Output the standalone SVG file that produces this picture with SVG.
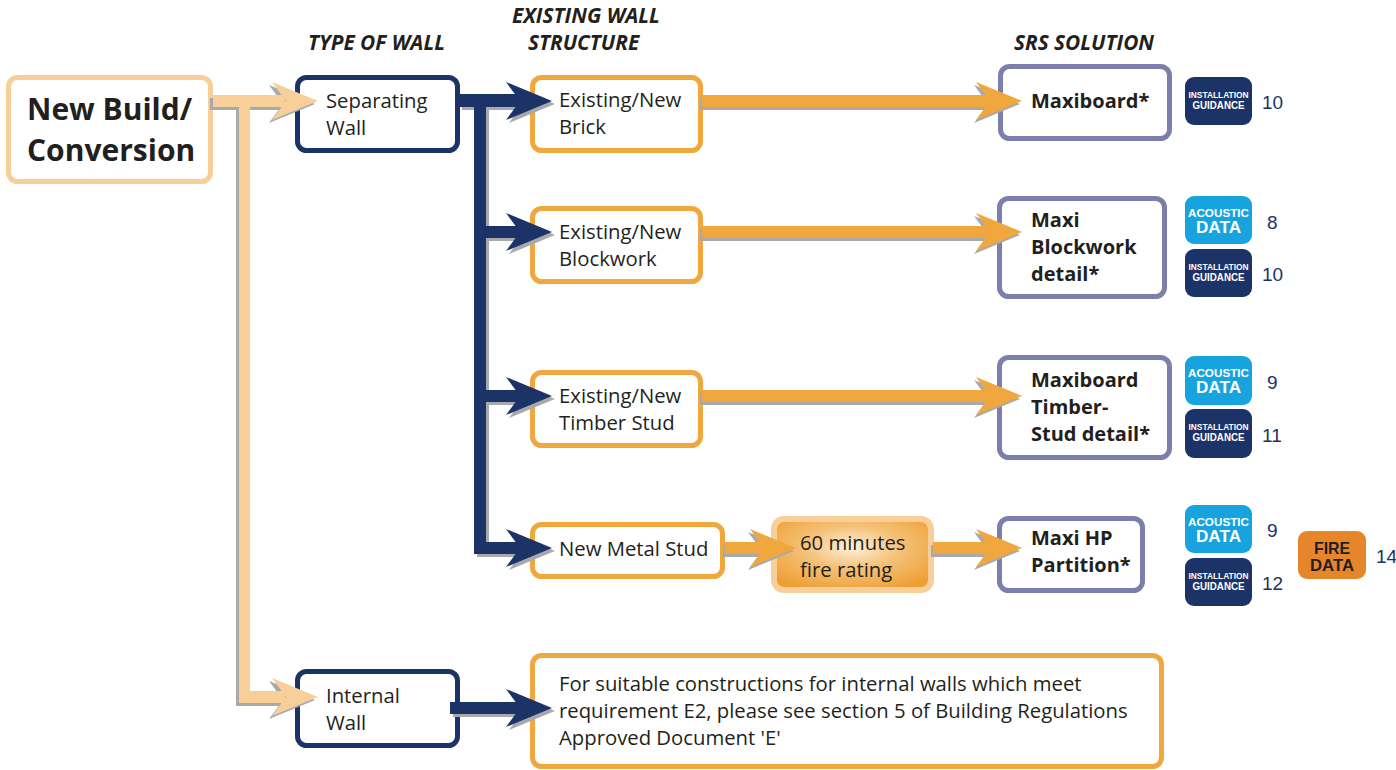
<svg xmlns="http://www.w3.org/2000/svg" width="1396" height="770" viewBox="0 0 1396 770">
<style>
.t{font-family:"Open Sans","Noto Sans",sans-serif;font-size:20.3px;fill:#231f20}
.b{font-family:"Open Sans","Noto Sans",sans-serif;font-size:20px;font-weight:700;fill:#231f20}
.big{font-family:"Open Sans","Noto Sans",sans-serif;font-size:30px;font-weight:700;fill:#231f20}
.h{font-family:"Open Sans","Noto Sans",sans-serif;font-size:20.8px;font-weight:700;font-style:italic;fill:#231f20}
.num{font-family:"Liberation Sans",Arial,sans-serif;font-size:19px;fill:#1b3366}
.bt{font-family:"Liberation Sans",Arial,sans-serif;font-weight:700;fill:#fff;text-anchor:middle}
.ft{font-family:"Liberation Sans",Arial,sans-serif;font-weight:700;fill:#231f20;text-anchor:middle}
.navyBox{fill:#fff;stroke:#1b3366;stroke-width:5}
.orBox{fill:#fff;stroke:#f0a83e;stroke-width:5}
.ltBox{fill:#fff;stroke:#f8cf98;stroke-width:5}
.srsBox{fill:#fff;stroke:#7a7fac;stroke-width:5}
.inst{fill:#1b3366}
.acou{fill:#16a3de}
.fire{fill:#e6862a}
.sh{fill:#a7a9ac}
.cn{fill:#1b3366}
.co{fill:#f0a83e}
.cl{fill:#f8cf98}
</style>
<defs>
<path id="ah" d="M0,0 L-46,-19 L-32,0 L-46,19 Z"/>
<radialGradient id="g60" cx="0.5" cy="0.4" r="0.65">
<stop offset="0" stop-color="#fdf0dc"/>
<stop offset="0.45" stop-color="#f5c27a"/>
<stop offset="1" stop-color="#ee9f34"/>
</radialGradient>
</defs>
<rect width="1396" height="770" fill="#fff"/>

<g id="headers">
<text class="h" x="308" y="50">TYPE OF WALL</text>
<text class="h" x="512" y="23">EXISTING WALL</text>
<text class="h" x="528" y="50">STRUCTURE</text>
<text class="h" x="1014" y="50">SRS SOLUTION</text>
</g>

<g id="node-newbuild">
<rect class="ltBox" x="8.5" y="77.5" width="202" height="104" rx="9"/>
<text class="big" x="27" y="120">New Build/</text>
<text class="big" x="27" y="161">Conversion</text>
</g>
<g id="node-separating">
<rect class="navyBox" x="297.5" y="77.5" width="160" height="73" rx="9"/>
<text class="t" x="326" y="108">Separating</text>
<text class="t" x="326" y="135">Wall</text>
</g>
<g id="node-internal">
<rect class="navyBox" x="297.5" y="671.5" width="160" height="74" rx="9"/>
<text class="t" x="326" y="703">Internal</text>
<text class="t" x="326" y="730">Wall</text>
</g>
<g id="node-brick">
<rect class="orBox" x="532.5" y="77.5" width="168" height="73" rx="9"/>
<text class="t" x="559" y="107">Existing/New</text>
<text class="t" x="559" y="134">Brick</text>
</g>
<g id="node-blockwork">
<rect class="orBox" x="532.5" y="208.5" width="168" height="73" rx="9"/>
<text class="t" x="559" y="239">Existing/New</text>
<text class="t" x="559" y="266">Blockwork</text>
</g>
<g id="node-timber">
<rect class="orBox" x="532.5" y="372.5" width="168" height="73" rx="9"/>
<text class="t" x="559" y="403">Existing/New</text>
<text class="t" x="559" y="430">Timber Stud</text>
</g>
<g id="node-metal">
<rect class="orBox" x="532.5" y="524.5" width="190" height="52" rx="9"/>
<text class="t" x="559" y="556">New Metal Stud</text>
</g>
<g id="node-60min">
<rect x="774" y="519" width="157" height="71" rx="10" fill="url(#g60)" stroke="#f8cf98" stroke-width="6"/>
<text class="t" x="800" y="550">60 minutes</text>
<text class="t" x="800" y="577">fire rating</text>
</g>
<g id="node-internal-note">
<rect class="orBox" x="532.5" y="655.5" width="629" height="111" rx="9"/>
<text class="t" x="559" y="691">For suitable constructions for internal walls which meet</text>
<text class="t" x="559" y="718">requirement E2, please see section 5 of Building Regulations</text>
<text class="t" x="559" y="745">Approved Document 'E'</text>
</g>
<g id="node-maxiboard">
<rect class="srsBox" x="1000.5" y="66.5" width="169" height="72" rx="9"/>
<text class="b" x="1031" y="108">Maxiboard*</text>
</g>
<g id="node-maxiblock">
<rect class="srsBox" x="999.5" y="198.5" width="165" height="98" rx="9"/>
<text class="b" x="1031" y="227">Maxi</text>
<text class="b" x="1031" y="254">Blockwork</text>
<text class="b" x="1031" y="281">detail*</text>
</g>
<g id="node-maxitimber">
<rect class="srsBox" x="999.5" y="357.5" width="170" height="100" rx="9"/>
<text class="b" x="1031" y="387">Maxiboard</text>
<text class="b" x="1031" y="414">Timber-</text>
<text class="b" x="1031" y="441">Stud detail*</text>
</g>
<g id="node-maxihp">
<rect class="srsBox" x="999.5" y="518.5" width="143" height="72" rx="9"/>
<text class="b" x="1031" y="545">Maxi HP</text>
<text class="b" x="1031" y="572">Partition*</text>
</g>

<g id="badge-inst-1">
<rect class="inst" x="1185" y="77" width="67" height="48" rx="9"/>
<text class="bt" x="1218.5" y="98" font-size="9.5" textLength="60" lengthAdjust="spacingAndGlyphs">INSTALLATION</text>
<text class="bt" x="1218.5" y="109" font-size="10.5" textLength="52" lengthAdjust="spacingAndGlyphs">GUIDANCE</text>
<text class="num" x="1262" y="109">10</text>
</g>
<g id="badge-acou-2">
<rect class="acou" x="1185" y="196" width="67" height="48" rx="9"/>
<text class="bt" x="1218.5" y="217" font-size="11.5" textLength="61" lengthAdjust="spacingAndGlyphs">ACOUSTIC</text>
<text class="bt" x="1218.5" y="233" font-size="17" textLength="45" lengthAdjust="spacingAndGlyphs">DATA</text>
<text class="num" x="1267" y="229">8</text>
</g>
<g id="badge-inst-2">
<rect class="inst" x="1185" y="249" width="67" height="48" rx="9"/>
<text class="bt" x="1218.5" y="270" font-size="9.5" textLength="60" lengthAdjust="spacingAndGlyphs">INSTALLATION</text>
<text class="bt" x="1218.5" y="281" font-size="10.5" textLength="52" lengthAdjust="spacingAndGlyphs">GUIDANCE</text>
<text class="num" x="1262" y="281">10</text>
</g>
<g id="badge-acou-3">
<rect class="acou" x="1185" y="356" width="67" height="49" rx="9"/>
<text class="bt" x="1218.5" y="377" font-size="11.5" textLength="61" lengthAdjust="spacingAndGlyphs">ACOUSTIC</text>
<text class="bt" x="1218.5" y="393" font-size="17" textLength="45" lengthAdjust="spacingAndGlyphs">DATA</text>
<text class="num" x="1267" y="389">9</text>
</g>
<g id="badge-inst-3">
<rect class="inst" x="1185" y="409" width="67" height="49" rx="9"/>
<text class="bt" x="1218.5" y="430" font-size="9.5" textLength="60" lengthAdjust="spacingAndGlyphs">INSTALLATION</text>
<text class="bt" x="1218.5" y="441" font-size="10.5" textLength="52" lengthAdjust="spacingAndGlyphs">GUIDANCE</text>
<text class="num" x="1262" y="442">11</text>
</g>
<g id="badge-acou-4">
<rect class="acou" x="1185" y="505" width="67" height="48" rx="9"/>
<text class="bt" x="1218.5" y="526" font-size="11.5" textLength="61" lengthAdjust="spacingAndGlyphs">ACOUSTIC</text>
<text class="bt" x="1218.5" y="542" font-size="17" textLength="45" lengthAdjust="spacingAndGlyphs">DATA</text>
<text class="num" x="1267" y="537">9</text>
</g>
<g id="badge-inst-4">
<rect class="inst" x="1185" y="558" width="67" height="48" rx="9"/>
<text class="bt" x="1218.5" y="579" font-size="9.5" textLength="60" lengthAdjust="spacingAndGlyphs">INSTALLATION</text>
<text class="bt" x="1218.5" y="590" font-size="10.5" textLength="52" lengthAdjust="spacingAndGlyphs">GUIDANCE</text>
<text class="num" x="1262" y="590">12</text>
</g>
<g id="badge-fire">
<rect class="fire" x="1298" y="531" width="68" height="48" rx="9"/>
<text class="ft" x="1332" y="554" font-size="16.5" textLength="36" lengthAdjust="spacingAndGlyphs">FIRE</text>
<text class="ft" x="1332" y="571" font-size="16.5" textLength="44" lengthAdjust="spacingAndGlyphs">DATA</text>
<text class="num" x="1376" y="563">14</text>
</g>

<g id="connectors">
<g id="conn-light-shadow" class="sh" transform="translate(-3,3)">
<rect x="213" y="95" width="72" height="12"/>
<rect x="239" y="95" width="11" height="608"/>
<rect x="239" y="691" width="46" height="12"/>
<use href="#ah" transform="translate(318,101)"/>
<use href="#ah" transform="translate(318,697)"/>
</g>
<g id="conn-light" class="cl">
<rect x="213" y="95" width="72" height="12"/>
<rect x="239" y="95" width="11" height="608"/>
<rect x="239" y="691" width="46" height="12"/>
<use href="#ah" transform="translate(318,101)"/>
<use href="#ah" transform="translate(318,697)"/>
</g>
<g id="conn-navy-shadow" class="sh" transform="translate(3,3)">
<rect x="459" y="94" width="62" height="13"/>
<rect x="474" y="94" width="12" height="460"/>
<rect x="474" y="226" width="47" height="12"/>
<rect x="474" y="390" width="47" height="12"/>
<rect x="474" y="542" width="47" height="12"/>
<rect x="450" y="702" width="71" height="12"/>
<use href="#ah" transform="translate(552,101)"/>
<use href="#ah" transform="translate(552,232)"/>
<use href="#ah" transform="translate(552,396)"/>
<use href="#ah" transform="translate(552,548)"/>
<use href="#ah" transform="translate(552,708)"/>
</g>
<g id="conn-navy" class="cn">
<rect x="459" y="94" width="62" height="13"/>
<rect x="474" y="94" width="12" height="460"/>
<rect x="474" y="226" width="47" height="12"/>
<rect x="474" y="390" width="47" height="12"/>
<rect x="474" y="542" width="47" height="12"/>
<rect x="450" y="702" width="71" height="12"/>
<use href="#ah" transform="translate(552,101)"/>
<use href="#ah" transform="translate(552,232)"/>
<use href="#ah" transform="translate(552,396)"/>
<use href="#ah" transform="translate(552,548)"/>
<use href="#ah" transform="translate(552,708)"/>
</g>
<g id="conn-orange-shadow" class="sh" transform="translate(-2,3)">
<rect x="702" y="95" width="290" height="12"/>
<rect x="702" y="226" width="290" height="12"/>
<rect x="702" y="390" width="290" height="12"/>
<rect x="725" y="542" width="45" height="12"/>
<rect x="933" y="542" width="59" height="12"/>
<use href="#ah" transform="translate(1022,101)"/>
<use href="#ah" transform="translate(1022,232)"/>
<use href="#ah" transform="translate(1022,396)"/>
<use href="#ah" transform="translate(796,548)"/>
<use href="#ah" transform="translate(1022,548)"/>
</g>
<g id="conn-orange" class="co">
<rect x="702" y="95" width="290" height="12"/>
<rect x="702" y="226" width="290" height="12"/>
<rect x="702" y="390" width="290" height="12"/>
<rect x="725" y="542" width="45" height="12"/>
<rect x="933" y="542" width="59" height="12"/>
<use href="#ah" transform="translate(1022,101)"/>
<use href="#ah" transform="translate(1022,232)"/>
<use href="#ah" transform="translate(1022,396)"/>
<use href="#ah" transform="translate(796,548)"/>
<use href="#ah" transform="translate(1022,548)"/>
</g>
</g>
</svg>
